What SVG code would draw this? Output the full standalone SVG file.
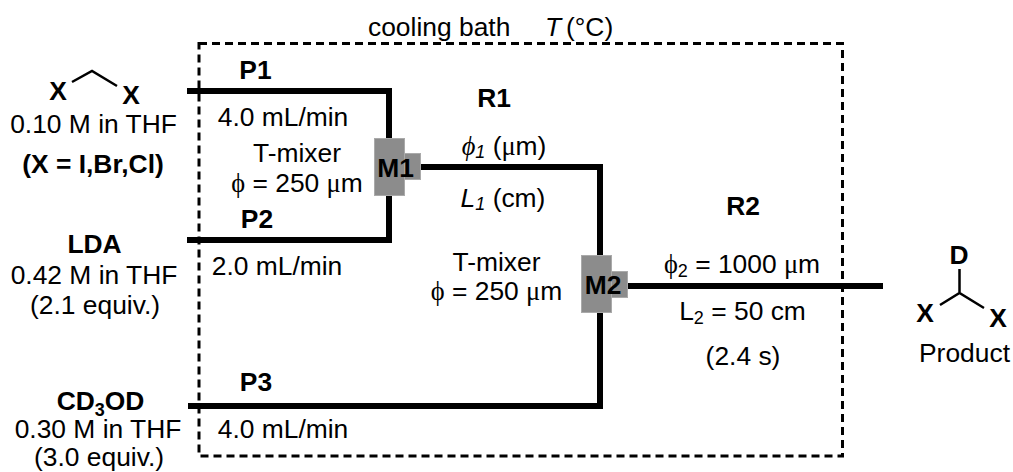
<svg xmlns="http://www.w3.org/2000/svg" width="1013" height="472" viewBox="0 0 1013 472">
<style>
text{font-family:"Liberation Sans",Arial,sans-serif;font-size:26.4px;fill:#000;text-anchor:middle}
.b{font-weight:bold}
.l{text-anchor:start}
.i{font-style:italic}
.s{font-family:"Liberation Serif","Times New Roman",serif}
.tube{fill:none;stroke:#000;stroke-width:6;stroke-linejoin:miter}
.bath{fill:none;stroke:#000;stroke-width:3;stroke-dasharray:8 5}
.bond{fill:none;stroke:#000;stroke-width:2.5}
.mix{fill:#8c8c8c;stroke:#aaa;stroke-width:1}
</style>
<g id="bath"><rect class="bath" x="199" y="43.500" width="643.500" height="412.500"/><text class="l" x="368" y="36">cooling bath</text><text class="i l" x="545" y="36">T</text><text class="l" x="566" y="36">(°C)</text></g>
<g id="connectors">
<path class="tube" d="M187 91H389V240H187"/>
<path class="tube" d="M420 167H600V406H188"/>
<path class="tube" d="M628 286H883"/>
</g>
<g id="reagent1"><path class="bond" d="M72 82L92 71L117 86"/><text class="b" x="58" y="100">X</text><text class="b" x="131" y="104">X</text><text x="93.500" y="132.500">0.10 M in THF</text><text class="b" x="93" y="173">(X = I,Br,Cl)</text></g>
<g id="reagent2"><text class="b" x="94.500" y="252.500">LDA</text><text x="94" y="284">0.42 M in THF</text><text x="95" y="314">(2.1 equiv.)</text></g>
<g id="reagent3"><text class="b" x="100.500" y="410">CD<tspan dy="6" font-size="18">3</tspan><tspan dy="-6">OD</tspan></text><text x="98" y="438">0.30 M in THF</text><text x="99" y="466">(3.0 equiv.)</text></g>
<g id="P1"><text class="b" x="255.500" y="78.500">P1</text><text x="283" y="126">4.0 mL/min</text></g>
<g id="P2"><text class="b" x="257" y="228">P2</text><text x="277" y="275">2.0 mL/min</text></g>
<g id="P3"><text class="b" x="256" y="390.500">P3</text><text x="283" y="437.500">4.0 mL/min</text></g>
<g id="T1"><text x="297" y="162">T-mixer</text><text x="297" y="192"><tspan class="s">ϕ</tspan> = 250 <tspan class="s">μ</tspan>m</text></g>
<g id="M1"><rect class="mix" x="374.500" y="138.500" width="30" height="57"/><rect class="mix" x="404.500" y="153.500" width="16" height="26"/><text class="b" x="395.500" y="177">M1</text></g>
<g id="R1"><text class="b" x="494" y="106.500">R1</text><text x="504" y="155"><tspan class="s i">ϕ</tspan><tspan class="i" font-size="18" dy="3">1</tspan><tspan dy="-3"> (</tspan><tspan class="s">μ</tspan>m)</text><text x="503" y="206.500"><tspan class="i">L</tspan><tspan class="i" font-size="18" dy="3">1</tspan><tspan dy="-3"> (cm)</tspan></text></g>
<g id="T2"><text x="496.500" y="271">T-mixer</text><text x="496.500" y="300"><tspan class="s">ϕ</tspan> = 250 <tspan class="s">μ</tspan>m</text></g>
<g id="M2"><rect class="mix" x="581.500" y="255.500" width="30" height="57"/><rect class="mix" x="611.500" y="271.500" width="16" height="26"/><text class="b" x="603" y="294">M2</text></g>
<g id="R2"><text class="b" x="743" y="215">R2</text><text x="742" y="273"><tspan class="s">ϕ</tspan><tspan font-size="18" dy="4">2</tspan><tspan dy="-4"> = 1000 </tspan><tspan class="s">μ</tspan>m</text><text x="742.500" y="320">L<tspan font-size="18" dy="4">2</tspan><tspan dy="-4"> = 50 cm</tspan></text><text x="743" y="365">(2.4 s)</text></g>
<g id="product"><path class="bond" d="M959.500 269V293M940 305L959.500 293L984 308"/><text class="b" x="959" y="264">D</text><text class="b" x="925" y="321.500">X</text><text class="b" x="998" y="326.500">X</text><text x="964.500" y="361.500">Product</text></g>
</svg>
